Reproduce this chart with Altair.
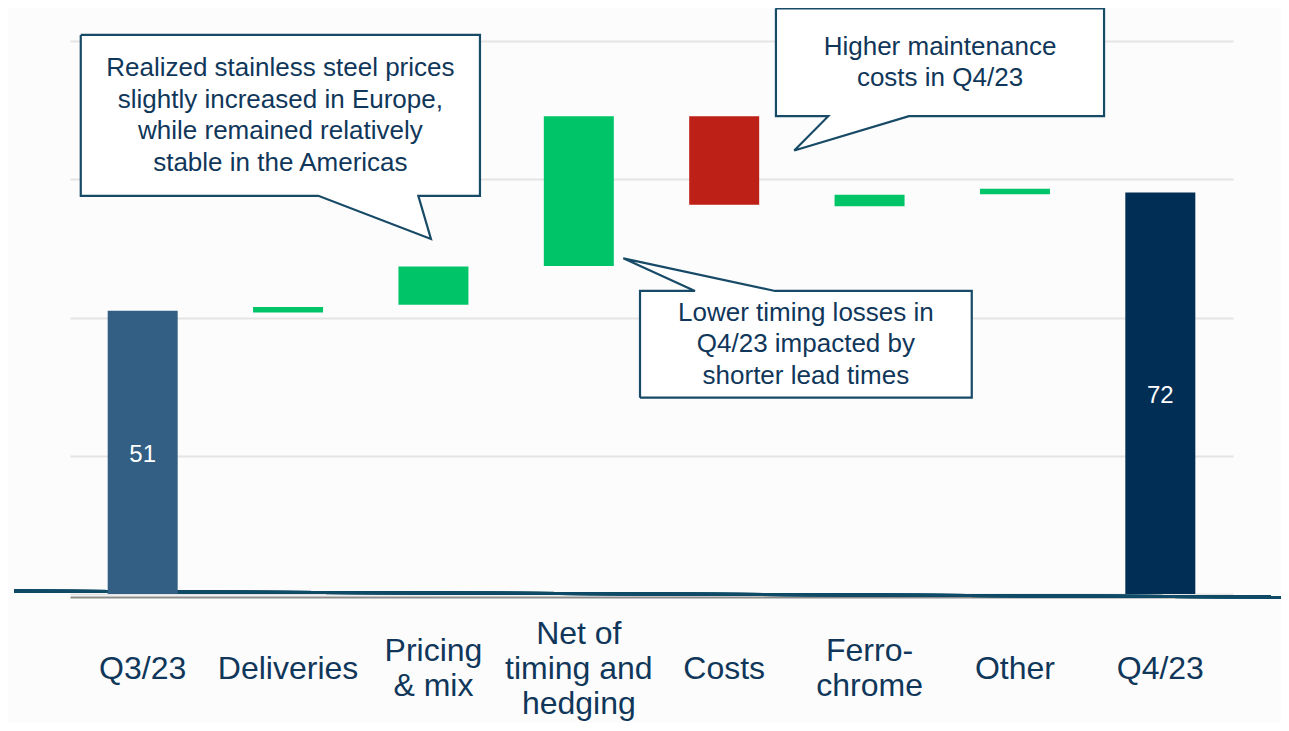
import altair as alt
import pandas as pd

# ---- waterfall data ----
categories = ["Q3/23", "Deliveries", "Pricing\n& mix", "Net of\ntiming and\nhedging",
              "Costs", "Ferro-\nchrome", "Other", "Q4/23"]
bar_low = [0, 50.9, 52.3, 59.3, 70.4, 70.1, 72.3, 0]
bar_high = [51.2, 51.9, 59.2, 86.4, 86.4, 72.2, 73.3, 72.6]
kinds = ["start", "increase", "increase", "increase", "decrease", "increase", "increase", "end"]
value_labels = ["51", "", "", "", "", "", "", "72"]

kind_domain = ["start", "increase", "decrease", "end"]
kind_colors = ["#325f83", "#00c468", "#bd2016", "#002e55"]

# ---- callouts (in chart units: x = category slots 0..8, y = value) ----
callout_texts = [
    "Realized stainless steel prices\nslightly increased in Europe,\nwhile remained relatively\nstable in the Americas",
    "Higher maintenance\ncosts in Q4/23",
    "Lower timing losses in\nQ4/23 impacted by\nshorter lead times",
]
# box: x_left, x_right, y_top, y_bottom
callout_boxes = [
    (0.074, 2.820, 101.1, 72.0),
    (4.856, 7.113, 105.9, 86.4),
    (3.921, 6.203, 54.8, 35.5),
]
# tail: edge, base_a, base_b, tip_x, tip_y
callout_tails = [
    ("bottom", 1.708, 2.396, 2.483, 64.2),
    ("bottom", 5.216, 5.771, 4.982, 80.2),
    ("top", 4.299, 4.850, 3.806, 60.7),
]

bars = pd.DataFrame({
    "cat": categories, "low": bar_low, "high": bar_high,
    "kind": kinds, "label": value_labels,
})

poly_rows = []
text_rows = []
for i, (txt, box, tail) in enumerate(zip(callout_texts, callout_boxes, callout_tails)):
    x0, x1, yt, yb = box
    edge, ba, bb, tx, ty = tail
    if edge == "bottom":
        pts = [(x0, yt), (x1, yt), (x1, yb), (bb, yb), (tx, ty), (ba, yb), (x0, yb), (x0, yt)]
    else:
        pts = [(x0, yb), (x0, yt), (ba, yt), (tx, ty), (bb, yt), (x1, yt), (x1, yb), (x0, yb)]
    for k, (px, py) in enumerate(pts):
        poly_rows.append({"id": i, "k": k, "x": px, "y": py})
    text_rows.append({"id": i, "x": (x0 + x1) / 2, "yc": (yt + yb) / 2, "text": txt})

poly = pd.DataFrame(poly_rows)
texts = pd.DataFrame(text_rows)

FONT = "Liberation Sans"
NAVY_TEXT = "#10375a"
BOX_STROKE = "#174a66"
BG = "#fcfcfc"

H = 553.0            # plot height in px
PX_PER_UNIT = H / 100.0
CAT_LH = 35
NOTE_LH = 31.5

yscale = alt.Scale(domain=[0, 100], nice=False, zero=True)
xq = alt.Scale(domain=[0, 8], nice=False, zero=False)
xcat = alt.Scale(paddingInner=0, paddingOuter=0)

base_line = alt.Chart(bars).mark_rule(color="#0f4a66", strokeWidth=3).encode(
    x=alt.value(-56), x2=alt.value(1211), y=alt.value(550), y2=alt.value(556)
)

bar_layer = alt.Chart(bars).mark_bar(size=70).encode(
    x=alt.X("cat:N", sort=categories, title=None, scale=xcat,
            axis=alt.Axis(labels=False, ticks=False, domainColor="#8c8c8c",
                          domainWidth=2, offset=3)),
    y=alt.Y("low:Q", scale=yscale, title=None,
            axis=alt.Axis(values=[0, 25, 50, 75, 100], labels=False, ticks=False,
                          domain=False, grid=True, gridColor="#e4e4e4", gridWidth=2)),
    y2="high:Q",
    color=alt.Color("kind:N", scale=alt.Scale(domain=kind_domain, range=kind_colors), legend=None),
)

value_text = alt.Chart(bars).transform_filter("datum.label != ''").transform_calculate(
    mid="(datum.low + datum.high) / 2"
).mark_text(color="white", fontSize=24, font=FONT, baseline="middle", dy=3).encode(
    x=alt.X("cat:N", sort=categories, scale=xcat),
    y=alt.Y("mid:Q", scale=yscale),
    text="label:N",
)

cat_labels = alt.Chart(bars).transform_calculate(
    ly=f"-{(669 - 594) / PX_PER_UNIT:.4f} + (length(split(datum.cat, '\\n')) - 1) * {CAT_LH / 2 / PX_PER_UNIT:.4f}"
).mark_text(
    align="center", baseline="middle", lineBreak="\n", fontSize=32, lineHeight=CAT_LH,
    font=FONT, color=NAVY_TEXT
).encode(
    x=alt.X("cat:N", sort=categories, scale=xcat),
    y=alt.Y("ly:Q", scale=yscale),
    text="cat:N",
)

poly_layer = alt.Chart(poly).mark_line(
    fill="white", stroke=BOX_STROKE, strokeWidth=2.2, strokeJoin="miter", interpolate="linear"
).encode(
    x=alt.X("x:Q", scale=xq, axis=None),
    y=alt.Y("y:Q", scale=yscale),
    order="k:Q",
    detail="id:N",
)

callout_text = alt.Chart(texts).transform_calculate(
    ty=f"datum.yc + (length(split(datum.text, '\\n')) - 1) * {NOTE_LH / 2 / PX_PER_UNIT:.4f}"
).mark_text(
    align="center", baseline="middle", lineBreak="\n", fontSize=26, lineHeight=NOTE_LH,
    font=FONT, color=NAVY_TEXT
).encode(
    x=alt.X("x:Q", scale=xq, axis=None),
    y=alt.Y("ty:Q", scale=yscale),
    text="text:N",
)

bars_group = alt.layer(base_line, bar_layer, value_text, cat_labels)
notes_group = alt.layer(poly_layer, callout_text)

chart = alt.layer(bars_group, notes_group).resolve_scale(x="independent").properties(
    width=1163, height=H,
    autosize=alt.AutoSizeParams(type="none"),
    padding={"left": 62, "top": 33, "right": 48, "bottom": 129},
    background=BG,
).configure_view(stroke=None)

chart.save("out.html", embed_options={"renderer": "svg", "actions": False})
